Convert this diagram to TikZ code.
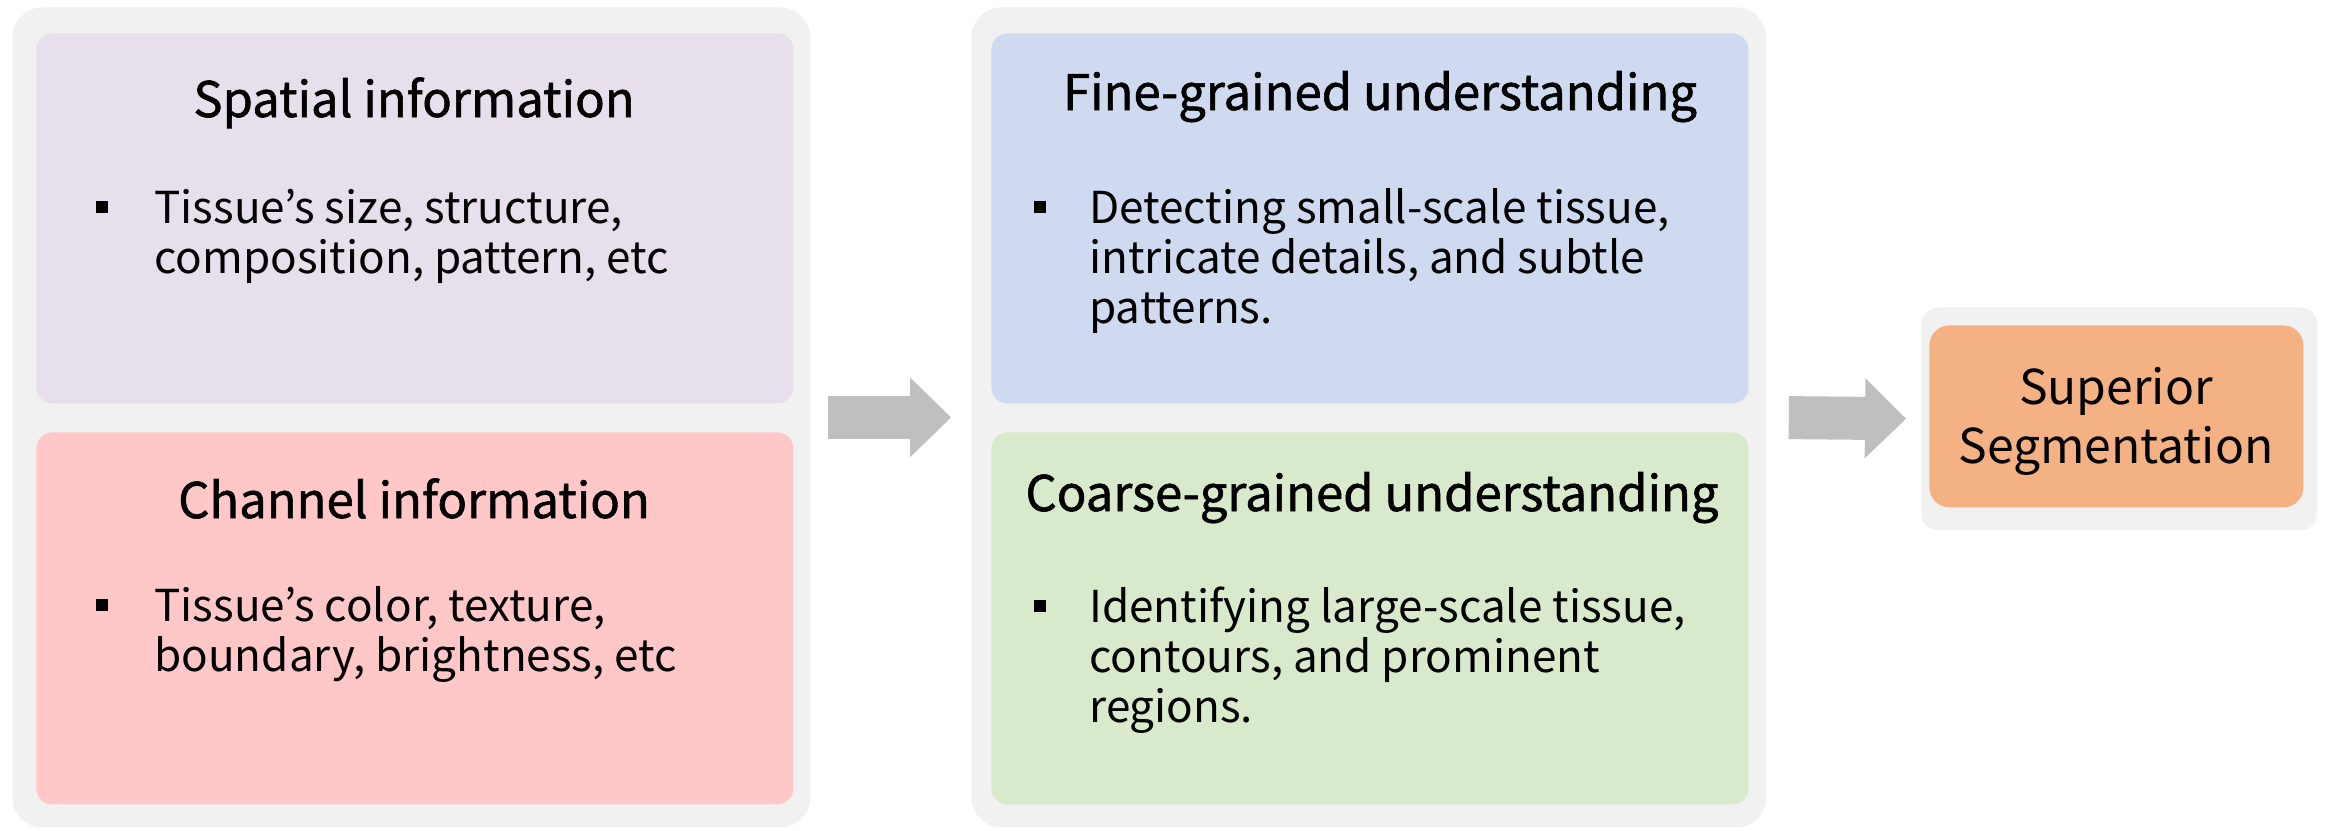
\documentclass[tikz,border=0pt]{standalone}
\usepackage{fontspec}
\setmainfont{Noto Sans CJK KR}
\newfontfamily\titlefont[FakeBold=1.2]{Noto Sans CJK KR}
\usetikzlibrary{arrows.meta}
\definecolor{grp}{HTML}{F1F1F1}
\definecolor{cpurple}{HTML}{E8DFEC}
\definecolor{cpink}{HTML}{FFC7C7}
\definecolor{cblue}{HTML}{CFDAF0}
\definecolor{cgreen}{HTML}{D9E9CC}
\definecolor{corange}{HTML}{F4B183}
\definecolor{carrow}{HTML}{BFBFBF}
\tikzset{
  group/.style={fill=grp, rounded corners=15pt, inner sep=0pt, anchor=north west},
  panel/.style={rounded corners=8pt, inner sep=0pt, anchor=north west, minimum width=378.5pt},
  ttl/.style={font=\titlefont\fontsize{24.5}{28}\selectfont, inner sep=0pt, anchor=base},
  txt/.style={font=\fontsize{22}{25}\selectfont, inner sep=0pt, anchor=base west},
  bul/.style={fill=black, minimum size=6pt, inner sep=0pt},
  restxt/.style={font=\fontsize{24}{28}\selectfont, inner sep=0pt, anchor=base},
  flow/.style={carrow, line width=21.5pt, -{Triangle[length=20.5pt,width=40pt,line width=0pt]}},
}
\begin{document}
\begin{tikzpicture}[x=0.5pt,y=-0.5pt]
\useasboundingbox (0,0) rectangle (2329,830);
% groups
\node[group, minimum width=399pt, minimum height=410pt] (Lout) at (12,7) {};
\node[group, minimum width=397.5pt, minimum height=410pt] (Mout) at (971,7) {};
\node[group, rounded corners=8.5pt, minimum width=198pt, minimum height=111.5pt] (Rout) at (1921,307) {};
% panels
\node[panel, fill=cpurple, minimum height=185pt] (sp) at (36,33) {};
\node[panel, fill=cpink, minimum height=186pt] (ch) at (36,432) {};
\node[panel, fill=cblue, minimum height=185pt] (fg) at (991,33) {};
\node[panel, fill=cgreen, minimum height=186pt] (cg) at (991,432) {};
\node[rounded corners=10pt, inner sep=0pt, anchor=north west, fill=corange,
      minimum width=187pt, minimum height=91pt] (ss) at (1929,325) {};
% titles
\node[ttl] (spt) at (414,117) {Spatial information};
\node[ttl] (cht) at (414,518) {Channel information};
\node[ttl] (fgt) at (1380,110) {Fine-grained understanding};
\node[ttl] (cgt) at (1372,511) {Coarse-grained understanding};
% bullets
\node[bul] (b1) at (102,207) {};
\node[txt] (s1) at (154,223) {Tissue’s size, structure,};
\node[txt] (s2) at (154,273) {composition, pattern, etc};
\node[bul] (b2) at (102,605) {};
\node[txt] (c1) at (154,621) {Tissue’s color, texture,};
\node[txt] (c2) at (154,671) {boundary, brightness, etc};
\node[bul] (b3) at (1040,207) {};
\node[txt] (f1) at (1089,223) {Detecting small-scale tissue,};
\node[txt] (f2) at (1089,273) {intricate details, and subtle};
\node[txt] (f3) at (1089,323) {patterns.};
\node[bul] (b4) at (1040,606) {};
\node[txt] (g1) at (1089,622) {Identifying large-scale tissue,};
\node[txt] (g2) at (1089,672) {contours, and prominent};
\node[txt] (g3) at (1089,722) {regions.};
% result
\node[restxt] (r1) at (2116,404) {Superior};
\node[restxt] (r2) at (2116,463) {Segmentation};
% arrows
\draw[flow, shorten <=8.5pt, shorten >=10pt] (Lout.east) -- (Mout.west);
\draw[flow, shorten <=11pt, shorten >=7.5pt] (Mout.east) -- (Rout.west);
\end{tikzpicture}
\end{document}
